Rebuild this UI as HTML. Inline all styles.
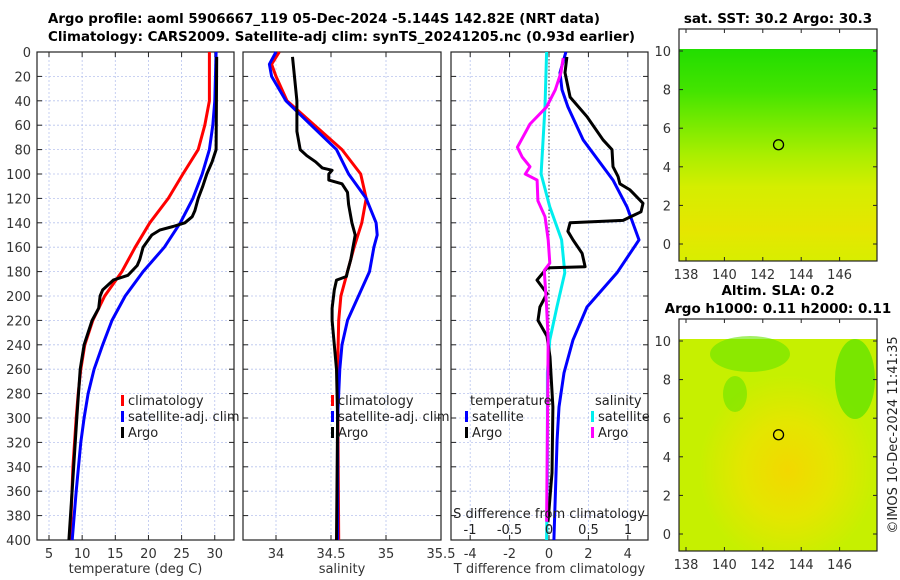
<!DOCTYPE html>
<html><head><meta charset="utf-8"><style>
html,body{margin:0;padding:0;background:#fff;}
svg{display:block;font-family:"DejaVu Sans","Liberation Sans",sans-serif;}
</style></head><body>
<svg id="fig" width="900" height="580" viewBox="0 0 900 580" xmlns="http://www.w3.org/2000/svg">
<text x="48" y="23" font-size="13.5" font-weight="bold" textLength="552" lengthAdjust="spacingAndGlyphs">Argo profile: aoml 5906667_119 05-Dec-2024 -5.144S 142.82E (NRT data)</text>
<text x="48" y="41" font-size="13.5" font-weight="bold" textLength="587" lengthAdjust="spacingAndGlyphs">Climatology: CARS2009. Satellite-adj clim: synTS_20241205.nc (0.93d earlier)</text>
<g id="maps"></g>
<g id="panels"></g>
<text transform="translate(897,435) rotate(-90)" text-anchor="middle" font-size="13" fill="#222">©IMOS 10-Dec-2024 11:41:35</text>
</svg>
<script>
// ---------- data ----------
const climDepth = [0,40,60,80,100,120,140,160,180,200,220,240,260,280,300,340,400];
const climTemp  = [29.2,29.2,28.5,27.5,25.2,23.0,20.2,18.0,16.0,13.4,11.6,10.4,9.8,9.4,9.1,8.6,8.2];
const satDepth = [0,40,60,80,100,120,140,160,180,200,220,240,260,280,300,320,360,400];
const satTemp  = [30.2,30.0,29.7,29.2,28.1,26.7,24.8,22.4,19.2,16.5,14.5,13.1,11.8,10.9,10.3,9.8,9.1,8.5];
const argoDepth = [4,80,90,100,110,120,130,135,140,143,146,150,160,170,175,183,187,195,200,210,220,240,260,300,350,400];
const argoTemp  = [30.3,30.2,29.6,28.8,28.2,27.5,27.0,26.6,25.5,23.7,21.7,20.5,19.2,18.7,18.3,16.9,14.7,13.1,12.7,12.5,11.5,10.3,9.7,9.2,8.6,8.0];

const climSDepth = [0,10,20,40,60,80,100,120,140,160,180,200,220,260,400];
const climSal    = [34.03,33.96,34.0,34.1,34.35,34.6,34.77,34.82,34.78,34.71,34.65,34.59,34.57,34.56,34.57];
const satSDepth = [0,10,20,40,60,80,100,120,140,150,160,180,200,220,240,260,300,400];
const satSal    = [34.0,33.94,33.96,34.09,34.32,34.55,34.66,34.82,34.91,34.92,34.89,34.85,34.75,34.65,34.6,34.58,34.56,34.56];
const argoSDepth = [4,40,65,70,80,85,90,95,97,100,105,108,115,125,140,150,170,180,184,187,195,210,220,240,260,300,400];
const argoSal    = [34.15,34.19,34.19,34.2,34.22,34.28,34.36,34.42,34.51,34.48,34.48,34.6,34.65,34.66,34.69,34.72,34.68,34.65,34.64,34.55,34.53,34.51,34.51,34.53,34.55,34.56,34.55];

const dTsatDepth = [0,17,31,45,72,105,127,154,181,209,236,263,291,318,400];
const dTsat      = [0.86,0.56,0.66,0.96,1.73,3.25,3.96,4.57,3.45,1.93,1.22,0.76,0.51,0.41,0.25];
const dTargoDepth = [4,17,37,53,72,80,94,102,108,113,124,131,138,140,147,154,165,176,177,187,198,209,220,233,250,291,345,385];
const dTargo      = [0.91,0.81,1.07,1.93,2.74,3.2,3.25,3.5,3.6,4.11,4.77,4.67,3.76,1.07,0.96,1.22,1.68,1.83,-0.1,-0.61,-0.1,-0.46,-0.56,-0.1,0.05,0.2,0.15,-0.05];
const dSsatDepth = [0,45,100,127,154,181,209,236,263,345,400];
const dSsat      = [-0.03,-0.05,-0.1,0.01,0.16,0.2,0.1,0.01,-0.02,-0.02,-0.03];
const dSargoDepth = [5,17,31,45,59,78,86,94,100,105,122,135,154,173,179,209,236,385];
const dSargo      = [0.18,0.15,0.08,-0.03,-0.24,-0.4,-0.34,-0.24,-0.3,-0.15,-0.14,-0.05,-0.01,0.01,-0.06,-0.03,-0.01,-0.03];

const depthTicks = [0,20,40,60,80,100,120,140,160,180,200,220,240,260,280,300,320,340,360,380,400];
const tempTicks = [5,10,15,20,25,30];
const salTicks = [34,34.5,35,35.5];
const salTickLabels = ["34","34.5","35","35.5"];
const dTTicks = [-4,-2,0,2,4];
const dSTicks = [-1,-0.5,0,0.5,1];
const dSTickLabels = ["-1","-0.5","0","0.5","1"];
const mapLonTicks = [138,140,142,144,146];
const mapLatTicks = [0,2,4,6,8,10];

// ---------- helpers ----------
const NS = "http://www.w3.org/2000/svg";
function mk(tag, attrs, parent){const e=document.createElementNS(NS,tag);for(const k in attrs)e.setAttribute(k,attrs[k]);parent.appendChild(e);return e;}
const PT=52, PB=540;
const yD = d => PT + d*(PB-PT)/400;
const panels = document.getElementById('panels');

function panel(name, x0, x1, xs, ticks, labels, xtitle, showY){
  const g = mk('g',{},panels);
  
  
  depthTicks.forEach(d=>{ mk('line',{x1:x0,x2:x1,y1:yD(d),y2:yD(d),stroke:'#b8c4ee','stroke-width':0.8,'stroke-dasharray':'2,2'},g);
    mk('line',{x1:x0,x2:x0+5,y1:yD(d),y2:yD(d),stroke:'#222'},g);
    mk('line',{x1:x1-5,x2:x1,y1:yD(d),y2:yD(d),stroke:'#222'},g);
    if(showY){const t=mk('text',{x:x0-6,y:yD(d)+5,'text-anchor':'end','font-size':13,fill:'#333'},g);t.textContent=d;}
  });
  ticks.forEach((v,i)=>{const x=xs(v);
    mk('line',{x1:x,x2:x,y1:PT,y2:PB,stroke:'#b8c4ee','stroke-width':0.8,'stroke-dasharray':'2,2'},g);
    mk('line',{x1:x,x2:x,y1:PB,y2:PB-5,stroke:'#222'},g);
    mk('line',{x1:x,x2:x,y1:PT,y2:PT+5,stroke:'#222'},g);
    const t=mk('text',{x:x,y:558,'text-anchor':'middle','font-size':13,fill:'#333'},g);t.textContent=labels[i];
  });
  const tt=mk('text',{x:(x0+x1)/2,y:573,'text-anchor':'middle','font-size':13,fill:'#333'},g);tt.textContent=xtitle;
  
  
  mk('rect',{x:x0,y:PT,width:x1-x0,height:PB-PT,fill:'none',stroke:'#222','stroke-width':1.2},g);
  return g;
}
function line(g, xs, depths, vals, color, name, w){
  const pts = depths.map((d,i)=>xs(vals[i]).toFixed(1)+','+yD(d).toFixed(1)).join(' ');
  const p = mk('polyline',{points:pts,fill:'none',stroke:color,'stroke-width':w||3,'stroke-linejoin':'round'},g);
  
  
}
function legend(g, x, y, items){
  items.forEach((it,i)=>{
    mk('rect',{x:x,y:y+i*16-10,width:3,height:11,fill:it[1]},g);
    const t=mk('text',{x:x+7,y:y+i*16,'font-size':13,fill:'#222'},g);t.textContent=it[0];
    
    
  });
}

const xT = T => 49 + (T-5)*6.63;
const g1 = panel('temperature-panel',37,234,xT,tempTicks,tempTicks.map(String),'temperature (deg C)',true);
line(g1,xT,climDepth,climTemp,'#ff0000','clim-temp-line');
line(g1,xT,satDepth,satTemp,'#0000ff','sat-temp-line');
line(g1,xT,argoDepth,argoTemp,'#000000','argo-temp-line');
legend(g1,121,405,[['climatology','#ff0000'],['satellite-adj. clim','#0000ff'],['Argo','#000']]);

const xS = S => 276 + (S-34)*110;
const g2 = panel('salinity-panel',243,441,xS,salTicks,salTickLabels,'salinity',false);
line(g2,xS,climSDepth,climSal,'#ff0000','clim-sal-line');
line(g2,xS,satSDepth,satSal,'#0000ff','sat-sal-line');
line(g2,xS,argoSDepth,argoSal,'#000000','argo-sal-line');
legend(g2,331,405,[['climatology','#ff0000'],['satellite-adj. clim','#0000ff'],['Argo','#000']]);

const xdT = v => 549 + v*19.7;
const xdS = v => 549 + v*79;
const g3 = panel('difference-panel',451,648,xdT,dTTicks,dTTicks.map(String),'T difference from climatology',false);
mk('line',{x1:549,x2:549,y1:PT,y2:PB,stroke:'#333','stroke-width':1,'stroke-dasharray':'1.5,2'},g3);
line(g3,xdS,dSsatDepth,dSsat,'#00eeee','sat-sal-diff-line');
line(g3,xdT,dTsatDepth,dTsat,'#0000ff','sat-temp-diff-line');
line(g3,xdT,dTargoDepth,dTargo,'#000000','argo-temp-diff-line');
line(g3,xdS,dSargoDepth,dSargo,'#ff00ff','argo-sal-diff-line');
{const t=mk('text',{x:470,y:405,'font-size':13,fill:'#222'},g3);t.textContent='temperature';
 const u=mk('text',{x:595,y:405,'font-size':13,fill:'#222'},g3);u.textContent='salinity';}
legend(g3,465,421,[['satellite','#0000ff'],['Argo','#000']]);
legend(g3,591,421,[['satellite','#00eeee'],['Argo','#ff00ff']]);
{const t=mk('text',{x:549,y:518,'text-anchor':'middle','font-size':13,fill:'#222'},g3);t.textContent='S difference from climatology';
 
 
 dSTicks.forEach((v,i)=>{const l=mk('text',{x:xdS(v),y:534,'text-anchor':'middle','font-size':13,fill:'#222'},g3);l.textContent=dSTickLabels[i];});}

// ---------- maps ----------
const maps = document.getElementById('maps');
const defs = mk('defs',{},maps);
const lg1 = mk('linearGradient',{id:'sstg',x1:0,y1:0,x2:0,y2:1},defs);
[['0','#22dd00'],['0.2','#44e400'],['0.35','#77ea00'],['0.5','#aaee00'],['0.65','#d4ee00'],['0.85','#e6e600'],['1','#d8ee00']].forEach(s=>mk('stop',{offset:s[0],'stop-color':s[1]},lg1));
const rg = mk('radialGradient',{id:'slag',cx:0.55,cy:0.62,r:0.45},defs);
[['0','#f2d800'],['0.5','#e4e600'],['1','#c6f000']].forEach(s=>mk('stop',{offset:s[0],'stop-color':s[1]},rg));
const lonX = lon => 686 + (lon-138)*19.2;
function map(name, top, title, lat10, lat0, sst){
  const g = mk('g',{},maps);
  
  
  const latY = lat => lat0 + (lat10-lat0)*lat/10;
  const dataTop = lat10-2;
  mk('rect',{x:679,y:dataTop,width:198,height:top+232-dataTop,fill:sst?'url(#sstg)':'url(#slag)'},g);
  if(!sst){
    mk('ellipse',{cx:750,cy:dataTop+15,rx:40,ry:18,fill:'#66e400',opacity:0.6},g);
    mk('ellipse',{cx:735,cy:dataTop+55,rx:12,ry:18,fill:'#55e200',opacity:0.5},g);
    mk('ellipse',{cx:855,cy:dataTop+40,rx:20,ry:40,fill:'#44e000',opacity:0.6},g);
  }
  mk('rect',{x:679,y:top,width:198,height:232,fill:'none',stroke:'#222','stroke-width':1.2},g);
  mapLonTicks.forEach(l=>{const x=lonX(l);
    mk('line',{x1:x,x2:x,y1:top+232,y2:top+228,stroke:'#222'},g);
    mk('line',{x1:x,x2:x,y1:top,y2:top+4,stroke:'#222'},g);
    const t=mk('text',{x:x,y:top+250,'text-anchor':'middle','font-size':13,fill:'#333'},g);t.textContent=l;});
  mapLatTicks.forEach(l=>{const y=latY(l);
    mk('line',{x1:679,x2:683,y1:y,y2:y,stroke:'#222'},g);
    mk('line',{x1:873,x2:877,y1:y,y2:y,stroke:'#222'},g);
    const t=mk('text',{x:671,y:y+5,'text-anchor':'end','font-size':13,fill:'#333'},g);t.textContent=l;});
  const c = mk('circle',{cx:lonX(142.82),cy:latY(5.144),r:5,fill:'none',stroke:'#000','stroke-width':1.3},g);
  
  
  title.forEach((s,i)=>{const t=mk('text',{x:778,y:top-(title.length-1-i)*18-6,'text-anchor':'middle','font-size':13.5,'font-weight':'bold'},g);t.textContent=s;});
}
map('sst-map',29,['sat. SST: 30.2 Argo: 30.3'],51,244,true);
map('sla-map',319,['Altim. SLA: 0.2','Argo h1000: 0.11 h2000: 0.11'],341,534,false);
</script>
</body></html>
